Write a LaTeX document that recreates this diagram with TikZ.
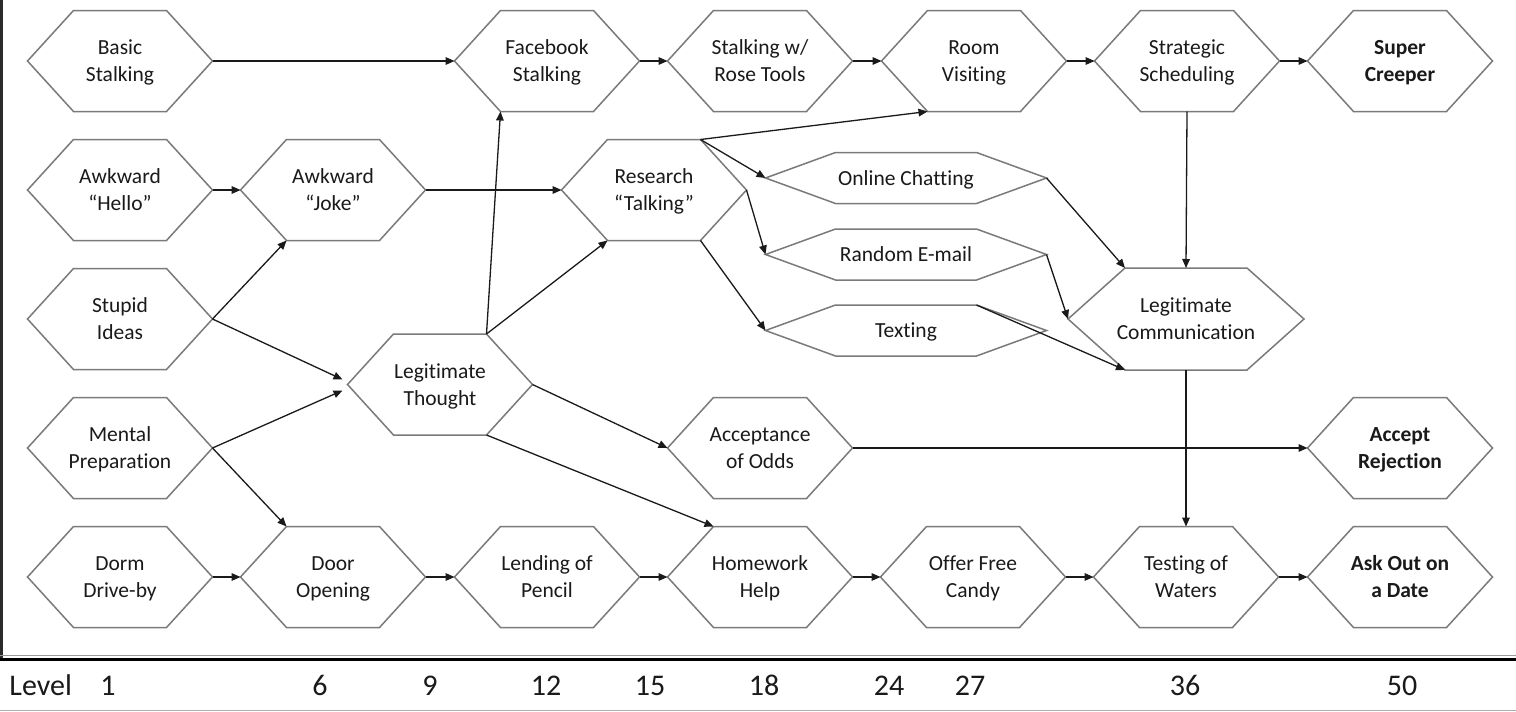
\documentclass[tikz,border=0pt]{standalone}
\usepackage{fontspec}
\setmainfont{Carlito}[Ligatures=NoCommon]
\usetikzlibrary{calc,arrows.meta}
\definecolor{hexgray}{HTML}{7A7A7A}
\definecolor{ink}{HTML}{1A1A1A}
\definecolor{band}{HTML}{2B2B2B}
\definecolor{rulegray}{HTML}{9A9A9A}
\tikzset{
  hextext/.style={align=center, text=ink, font=\fontsize{10.75pt}{13.5pt}\selectfont, inner sep=0pt},
  goal/.style={font=\fontsize{10.75pt}{13.5pt}\selectfont\bfseries},
  hexline/.style={draw=hexgray, line width=0.75pt, line join=miter},
  link/.style={draw=ink, line width=0.65pt, -{Triangle[length=4.5pt,width=3.8pt]}},
  lvl/.style={text=ink, font=\fontsize{15pt}{18pt}\selectfont, anchor=base, inner sep=0pt},
}
\newcommand{\br}{\\\strut}
% #1 style, #2 name, #3 x, #4 y, #5 half width, #6 inset, #7 half height, #8 text
\newcommand{\hexa}[8][]{%
  \coordinate (#2-c) at (#3,#4);
  \node[hextext,#1] (#2) at ($(#2-c)+(0,2)$) {\strut #8};
  \coordinate (#2-l)  at ($(#2-c)+(-#5,0)$);
  \coordinate (#2-r)  at ($(#2-c)+(#5,0)$);
  \coordinate (#2-tl) at ($(#2-c)+(-#5+#6,-#7)$);
  \coordinate (#2-tr) at ($(#2-c)+(#5-#6,-#7)$);
  \coordinate (#2-bl) at ($(#2-c)+(-#5+#6,#7)$);
  \coordinate (#2-br) at ($(#2-c)+(#5-#6,#7)$);
  \coordinate (#2-t)  at ($(#2-c)+(0,-#7)$);
  \coordinate (#2-b)  at ($(#2-c)+(0,#7)$);
  \draw[hexline] (#2-l) -- (#2-tl) -- (#2-tr) -- (#2-r) -- (#2-br) -- (#2-bl) -- cycle;
}
\begin{document}
\begin{tikzpicture}[x=0.5pt,y=-0.5pt]
\useasboundingbox (0,0) rectangle (1516,712);
\fill[white] (0,0) rectangle (1516,712);
% frame pieces
\fill[band] (0,0) rectangle (3,661);
\draw[rulegray, line width=0.5pt] (0,655) -- (1516,655);
\draw[black, line width=1.5pt] (0,659.5) -- (1516,659.5);
\draw[rulegray!80, line width=0.75pt] (0,710.5) -- (1516,710.5);

% row 1
\hexa{bs}{120}{61}{92.5}{46}{50.5}{Basic\br Stalking}
\hexa{fb}{547}{61}{92.5}{46}{50.5}{Facebook\br Stalking}
\hexa{sw}{760}{61}{92.5}{46}{50.5}{Stalking w/\br Rose Tools}
\hexa{rv}{974}{61}{92.5}{46}{50.5}{Room\br Visiting}
\hexa{ss}{1187}{61}{92.5}{46}{50.5}{Strategic\br Scheduling}
\hexa[goal]{sc}{1400}{61}{92.5}{46}{50.5}{Super\br Creeper}
% row 2
\hexa{ah}{120}{190}{92.5}{46}{50.5}{Awkward\br “Hello”}
\hexa{aj}{333}{190}{92.5}{46}{50.5}{Awkward\br “Joke”}
\hexa{rt}{654}{190}{92.5}{46}{50.5}{Research\br “Talking”}
% small ones
\hexa{oc}{906}{178}{140.5}{70}{25.5}{Online Chatting}
\hexa{re}{906}{254.5}{140.5}{70}{25.5}{Random E-mail}
\hexa{tx}{906}{330.5}{140.5}{70}{25.5}{Texting}
% row 3
\hexa{si}{120}{319}{92.5}{46}{50.5}{Stupid\br Ideas}
\hexa{lt}{440}{384.5}{92.5}{46}{50.5}{Legitimate\br Thought}
\hexa{lc}{1186}{319}{118}{57}{51}{Legitimate\br Communication}
% row 4
\hexa{mp}{120}{448}{92.5}{46}{50.5}{Mental\br Preparation}
\hexa{ao}{760}{448}{92.5}{46}{50.5}{Acceptance\br of Odds}
\hexa[goal]{ar}{1400}{448}{92.5}{46}{50.5}{Accept\br Rejection}
% row 5
\hexa{dd}{120}{577}{92.5}{46}{50.5}{Dorm\br Drive-by}
\hexa{do}{333}{577}{92.5}{46}{50.5}{Door\br Opening}
\hexa{lp}{547}{577}{92.5}{46}{50.5}{Lending of\br Pencil}
\hexa{hh}{760}{577}{92.5}{46}{50.5}{Homework\br Help}
\hexa{of}{973}{577}{92.5}{46}{50.5}{Offer Free\br Candy}
\hexa{tw}{1186}{577}{92.5}{46}{50.5}{Testing of\br Waters}
\hexa[goal]{ad}{1400}{577}{92.5}{46}{50.5}{Ask Out on\br a Date}

\coordinate (lt-in1) at ($(lt-l)+(-5,-5)$);
\coordinate (lt-in2) at ($(lt-l)+(-5,6)$);

% connectors
\draw[link] (bs-r) -- (fb-l);
\draw[link] (fb-r) -- (sw-l);
\draw[link] (sw-r) -- (rv-l);
\draw[link] (rv-r) -- (ss-l);
\draw[link] (ss-r) -- (sc-l);
\draw[link] (ah-r) -- (aj-l);
\draw[link] (aj-r) -- (rt-l);
\draw[link] (si-r) -- (aj-bl);
\draw[link] (si-r) -- (lt-in1);
\draw[link] (mp-r) -- (lt-in2);
\draw[link] (mp-r) -- (do-tl);
\draw[link] (dd-r) -- (do-l);
\draw[link] (do-r) -- (lp-l);
\draw[link] (lp-r) -- (hh-l);
\draw[link] (hh-r) -- (of-l);
\draw[link] (of-r) -- (tw-l);
\draw[link] (tw-r) -- (ad-l);
\draw[link] (lt-tr) -- (fb-bl);
\draw[link] (lt-tr) -- (rt-bl);
\draw[link] (lt-r) -- (ao-l);
\draw[link] (lt-br) -- (hh-tl);
\draw[link] (ao-r) -- (ar-l);
\draw[link] (rt-tr) -- (rv-bl);
\draw[link] (rt-tr) -- (oc-l);
\draw[link] (rt-r) -- (re-l);
\draw[link] (rt-br) -- (tx-l);
\draw[link] (oc-r) -- (lc-tl);
\draw[link] (re-r) -- (lc-l);
\draw[link] (tx-tr) -- (lc-bl);
\draw[link] (ss-b) -- (lc-t);
\draw[link] (lc-b) -- (tw-t);

% level row
\node[lvl, anchor=base west] (lvl) at (9,695) {Level};
\node[lvl] (v1) at (108,695) {1};
\node[lvl] (v6) at (320,695) {6};
\node[lvl] (v9) at (430,695) {9};
\node[lvl] (v12) at (546,695) {12};
\node[lvl] (v15) at (650,695) {15};
\node[lvl] (v18) at (764,695) {18};
\node[lvl] (v24) at (889,695) {24};
\node[lvl] (v27) at (970,695) {27};
\node[lvl] (v36) at (1185,695) {36};
\node[lvl] (v50) at (1402,695) {50};
\end{tikzpicture}
\end{document}
